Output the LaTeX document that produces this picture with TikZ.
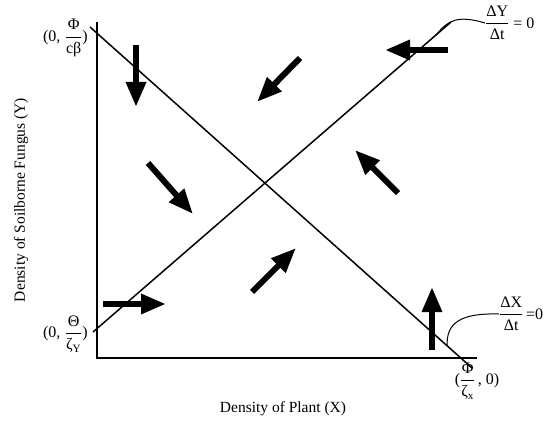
\documentclass[tikz,border=0pt]{standalone}
\usepackage{amsmath}
\usepackage{fontspec}
\setmainfont{Liberation Serif}
\usetikzlibrary{arrows.meta,calc}
\newcommand{\myfr}[2]{\ensuremath{\dfrac{\text{#1}}{\text{#2}}}}
\begin{document}
\begin{tikzpicture}[x=1pt,y=-1pt,
  axisline/.style={line width=1.5pt},
  isoline/.style={line width=1.5pt},
  flow/.style={line width=6pt,-{Triangle[length=25pt,width=19pt]}},
  leader/.style={line width=1pt},
  lbl/.style={font=\fontsize{16}{18}\selectfont,inner sep=0pt},
  axlbl/.style={font=\fontsize{15.5}{18}\selectfont,inner sep=0pt}]
\useasboundingbox (0,0) rectangle (552,425);
% axes
\coordinate (O) at (97,358);
\coordinate (Ytop) at (97,22);
\coordinate (Xend) at (477,358);
\draw[axisline] (Ytop) -- (O) -- (Xend);
% isoclines
\coordinate (a1) at (90,27);
\coordinate (a2) at (472,368);
\coordinate (b1) at (93,332);
\coordinate (b2) at (451,22);
\draw[isoline] (a1) -- (a2);
\draw[isoline] (b1) -- (b2);
% flow arrows
\coordinate (f1s) at (136,45);  \coordinate (f1e) at (136,107);
\coordinate (f2s) at (148,163); \coordinate (f2e) at (193,214);
\coordinate (f3s) at (103,304); \coordinate (f3e) at (166,304);
\coordinate (f4s) at (252,292); \coordinate (f4e) at (296,248);
\coordinate (f5s) at (398,193); \coordinate (f5e) at (355,150);
\coordinate (f6s) at (300,58);  \coordinate (f6e) at (257,102);
\coordinate (f7s) at (448,50);  \coordinate (f7e) at (385,50);
\coordinate (f8s) at (432,350); \coordinate (f8e) at (432,287);
\foreach \i in {1,...,8} \draw[flow] (f\i s) -- (f\i e);
% labels on axes
\node[lbl,anchor=east] (pY1) at (88,38) {(0,\;\myfr{Φ}{cβ})};
\node[lbl,anchor=east] (pY2) at (88,334) {(0,\;\myfr{Θ}{ζ$_{\text{Y}}$})};
\node[lbl] (pX) at (477,381) {(\myfr{Φ}{ζ$_{\text{x}}$}\,, 0)};
\node[axlbl,rotate=90] (ylab) at (21,200) {Density of Soilborne Fungus (Y)};
\node[axlbl] (xlab) at (283,409) {Density of Plant (X)};
% isocline labels
\node[lbl,anchor=west] (dY) at (485,23) {\myfr{ΔY}{Δt} = 0};
\node[lbl,anchor=west] (dX) at (499,314) {\myfr{ΔX}{Δt}\,=0};
\coordinate (lY) at ($(b1)!0.96!(b2)$);
\coordinate (lX) at ($(a1)!0.935!(a2)$);
\draw[leader] (lY) .. controls (448,20) and (458,15) .. (dY.west);
\draw[leader] (lX) .. controls (446,322) and (462,313) .. (dX.west);
\end{tikzpicture}
\end{document}
